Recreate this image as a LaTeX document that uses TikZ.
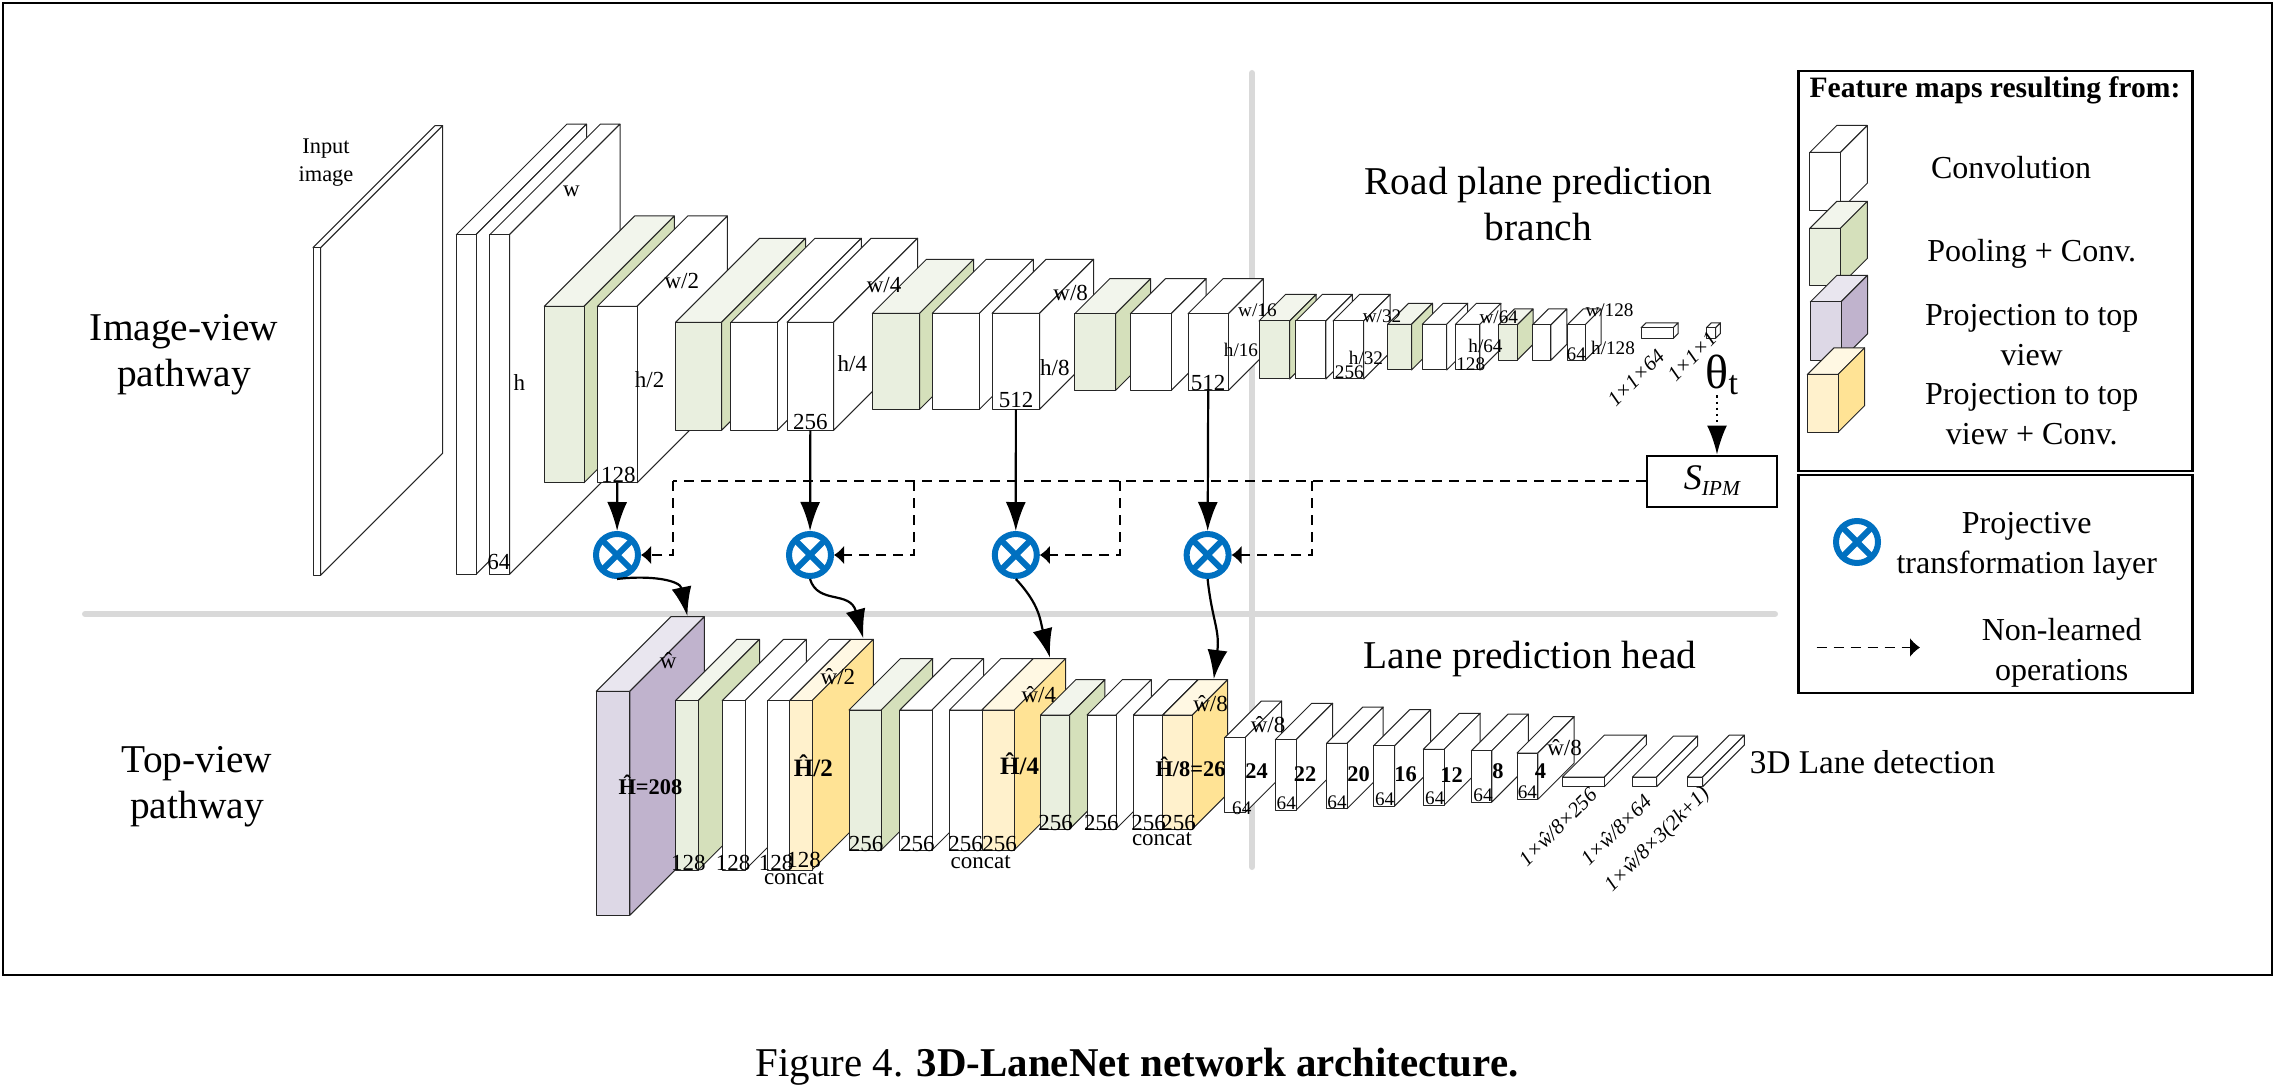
\documentclass[tikz,border=0pt]{standalone}
\usepackage{fontspec}
\setmainfont{Liberation Serif}
\usetikzlibrary{arrows.meta}
\definecolor{plainfront}{HTML}{FFFFFF}
\definecolor{plaintop}{HTML}{FFFFFF}
\definecolor{plainside}{HTML}{FFFFFF}
\definecolor{poolfront}{HTML}{E9EFDF}
\definecolor{pooltop}{HTML}{F2F5EC}
\definecolor{poolside}{HTML}{D5E0BB}
\definecolor{projfront}{HTML}{DDD8E6}
\definecolor{projtop}{HTML}{E9E6EF}
\definecolor{projside}{HTML}{C0B3CD}
\definecolor{concfront}{HTML}{FFF1CC}
\definecolor{conctop}{HTML}{FFF8E3}
\definecolor{concside}{HTML}{FFE395}
\definecolor{otblue}{HTML}{0070C0}
\definecolor{railgray}{HTML}{D9D9D9}
\tikzset{
  fmapedge/.style={draw=black!85,line width=.5pt,line join=round},
  fmapface/.style={fmapedge,anchor=north west,inner sep=0pt,outer sep=0pt},
  otimes/.style={circle,draw=otblue,line width=3pt,minimum size=21pt,inner sep=0pt,
    path picture={
      \draw[otblue,line width=3pt] (path picture bounding box.north west) -- (path picture bounding box.south east);
      \draw[otblue,line width=3pt] (path picture bounding box.north east) -- (path picture bounding box.south west);
    }},
  rail/.style={railgray,line width=3pt,line cap=round},
  solidarrow/.style={line width=1.1pt,-{Latex[length=14.5pt,width=10pt]}},
  busline/.style={line width=1.1pt,dash pattern=on 5pt off 3.5pt},
  busarrow/.style={busline,-{Latex[length=5pt,width=9.5pt]}},
  bigtext/.style={inner sep=0pt,font=\fontsize{19.7}{23}\selectfont},
  legtext/.style={inner sep=0pt,font=\fontsize{16}{19}\selectfont},
  dimfont/.style={inner sep=0pt,font=\fontsize{11.5}{13}\selectfont},
  smallfont/.style={inner sep=0pt,font=\fontsize{9.6}{11}\selectfont},
  boldfont/.style={inner sep=0pt,font=\fontsize{11.2}{13}\selectfont\bfseries},
  slanted/.style={inner sep=0pt,rotate=45,font=\fontsize{10.5}{12}\selectfont\itshape},
}
% one feature map: kind, name, x, y, width, height, depth
\newcommand{\fmap}[7]{
  \path[fmapedge,fill=#1top] (#3,#4) -- ++(#7,-#7) -- ++(#5,0) -- ++(-#7,#7) -- cycle;
  \path[fmapedge,fill=#1side] (#3+#5,#4) -- ++(#7,-#7) -- ++(0,#6) -- ++(-#7,#7) -- cycle;
  \node[fmapface,fill=#1front,minimum width={#5*0.5pt},minimum height={#6*0.5pt}] (#2) at (#3,#4) {};
}
\begin{document}
\begin{tikzpicture}[x=.5pt,y=-.5pt]
    \useasboundingbox (0,0) rectangle (2274,1085);
    \node[draw,line width=.8pt,anchor=north west,inner sep=0pt,minimum width=1134.5pt,minimum height=486pt] (frame) at (2,2) {};

    \coordinate (railvtop) at (1252,73);
    \coordinate (railvbot) at (1252,867);
    \coordinate (railhl) at (85,614);
    \coordinate (railhr) at (1775,614);
    \draw[rail] (railvtop) -- (railvbot);
    \draw[rail] (railhl) -- (railhr);

    % image-view pathway
    \foreach \kind/\nm/\xx/\yy/\ww/\hh/\dd in {
      plain/inputimg/313/247.7/7.6/327.6/122,
      plain/c1a/456.3/234.7/19.7/339.6/110.5,
      plain/c1b/489.8/234.7/19.7/339.6/110.5,
      pool/p2/544.3/306.3/39.7/176.4/90.3,
      plain/c2/597.4/306.3/39.7/176.4/90.3,
      pool/p3/675.5/322.3/46/108/84,
      plain/c3a/730.9/322.3/46.4/108/84,
      plain/c3b/787.1/322.3/46.5/108/84,
      pool/p4/872.4/313.3/47.3/96/54,
      plain/c4a/932.2/313.3/47.2/96/54,
      plain/c4b/992.1/313.3/47.5/96/54,
      pool/p5/1074.8/313.7/40.8/76.7/35,
      plain/c5a/1130.4/313.7/40.8/76.7/35,
      plain/c5b/1188/313.7/40.4/76.7/35,
      pool/p6/1259/321/30.6/58/26.6,
      plain/c6a/1295.7/321/30.1/58/26.6,
      plain/c6b/1333/321/30.6/58/26.6,
      pool/p7/1387.6/324.3/23.9/45.7/21,
      plain/c7a/1422.2/324.3/24.5/45.7/21,
      plain/c7b/1455.4/324.3/24.5/45.7/21,
      pool/p8/1498.3/325/18.8/35.3/16,
      plain/c8a/1532.4/325/18.4/35.3/16,
      plain/c8b/1567.1/325/17.9/35.3/16,
      plain/fc1/1641.1/327.7/32.2/10.6/4.8,
      plain/fc2/1706.4/327.7/9.2/10.6/4.8}
    {\fmap{\kind}{\nm}{\xx}{\yy}{\ww}{\hh}{\dd}}

    % top-view pathway
    \foreach \kind/\nm/\xx/\yy/\ww/\hh/\dd in {
      proj/t1/596.3/691.3/33.5/224/74.6,
      pool/t2/675.4/700.7/22.8/169.3/61.3,
      plain/t3/722.2/700.7/22.8/169.3/61.3,
      plain/t4/767.8/700.7/21.8/169.3/61.3,
      conc/t5/789.6/700.7/22.4/169.3/61.3,
      pool/t6/849/710/32.2/140/51.5,
      plain/t7/899.9/710/32.1/140/51.5,
      plain/t8/949.5/710/32.5/140/51.5,
      conc/t9/982/710/32.2/140/51.5,
      pool/t10/1040.5/715/29.1/114/35.3,
      plain/t11/1087/715/29/114/35.3,
      plain/t12/1133.4/715/29.5/114/35.3,
      conc/t13/1162.9/715/29.4/114/35.3,
      plain/h1/1224.6/737.7/20.4/75/36.6,
      plain/h2/1275.3/739.7/20.9/70.3/36.4,
      plain/h3/1326.6/743.3/20.4/65.4/36.2,
      plain/h4/1373.6/745.7/21/60.3/36,
      plain/h5/1423.3/749.3/20.9/55.7/36,
      plain/h6/1471.4/750.7/20.4/51.3/36.5,
      plain/h7/1517/753/20.9/46.3/36.3,
      plain/o1/1562.5/777/41.8/9.7/42,
      plain/o2/1632.5/777/24.1/9.7/41,
      plain/o3/1687.4/777/15.2/9.7/41.8}
    {\fmap{\kind}{\nm}{\xx}{\yy}{\ww}{\hh}{\dd}}

    \node[otimes] (ot1) at (617,555) {};
    \node[otimes] (ot2) at (810,555) {};
    \node[otimes] (ot3) at (1015.8,555) {};
    \node[otimes] (ot4) at (1207.6,555) {};
    \node[draw,line width=1pt,minimum width=65pt,minimum height=25.5pt,inner sep=0pt] (sipm) at (1711.8,481)
      {\fontsize{18}{18}\selectfont\itshape S\raisebox{-3pt}{\fontsize{10.7}{12}\selectfont IPM}};
    \node[inner sep=0pt,font=\fontsize{24}{24}\selectfont] (theta) at (1717,375) {θ\rlap{\raisebox{-3pt}{\fontsize{17}{17}\selectfont t}}};

    \draw[solidarrow] (c2.south) -- (ot1);
    \draw[solidarrow] (c3b.south) -- (ot2);
    \draw[solidarrow] (c4b.south) -- (ot3);
    \draw[solidarrow] (c5b.south) -- (ot4);
    \draw[line width=1.1pt,dotted,-{Latex[length=14.5pt,width=10pt]}] (theta.south) -- (theta.south |- sipm.north);

    \coordinate (bus1) at (673.3,481);
    \coordinate (bus2) at (914,481);
    \coordinate (bus3) at (1120,481);
    \coordinate (bus4) at (1312,481);
    \draw[busline] (sipm.west) -- (bus1);
    \draw[busarrow] (bus1) |- (ot1.east);
    \draw[busarrow] (bus2) |- (ot2.east);
    \draw[busarrow] (bus3) |- (ot3.east);
    \draw[busarrow] (bus4) |- (ot4.east);

    \coordinate (tip1) at (687.4,616);
    \coordinate (tip2) at (863.3,638.3);
    \coordinate (tip3) at (1050,657.7);
    \coordinate (tip4) at (1213.8,679);
    \draw[solidarrow] (ot1.south) .. controls (650,575) and (680,580) .. (tip1);
    \draw[solidarrow] (ot2.south) .. controls (818,605) and (850,590) .. (tip2);
    \draw[solidarrow] (ot3.south) .. controls (1040,605) and (1040,620) .. (tip3);
    \draw[solidarrow] (ot4.south) .. controls (1212,620) and (1220,630) .. (tip4);

    % big labels
    \node[bigtext,align=center] (imgview) at (184,355) {Image-view\\pathway};
    \node[bigtext,align=center] (topview) at (197,787) {Top-view\\pathway};
    \node[bigtext,align=center] (roadbranch) at (1538.5,204) {Road plane prediction\\branch};
    \node[bigtext] (lanehead) at (1530,659) {Lane prediction head};
    \node[inner sep=0pt,font=\fontsize{16.6}{19}\selectfont] (lanedet) at (1872.5,761.7) {3D Lane detection};
    \node[inner sep=0pt,align=center,font=\fontsize{11.2}{14}\selectfont] (inputlbl) at (326,162.5) {Input\\image};

    % sizes along the image-view pathway
    \foreach \xx/\yy/\txt [count=\i] in {
      571.5/191.7/w, 519.3/382.7/h, 498.8/561.7/64, 681.8/281/{w/2}, 649.6/380/{h/2},
      618.4/475/128, 884/285/{w/4}, 852.3/363.3/{h/4}, 810.4/422.3/256, 1070.7/292.7/{w/8},
      1054.9/367.7/{h/8}, 1016/400/512, 1208/382.7/512}
    {\node[dimfont] (imgdim\i) at (\xx,\yy) {\txt};}
    \foreach \xx/\yy/\txt [count=\i] in {
      1257.4/310/{w/16}, 1241/350/{h/16}, 1382/316.7/{w/32}, 1366/358.3/{h/32}, 1349.3/372.7/256,
      1498.8/317.3/{w/64}, 1485.5/346/{h/64}, 1470.7/364.3/128, 1576.3/354.3/64,
      1609.5/310/{w/128}, 1613/347.7/{h/128}}
    {\node[smallfont] (fardim\i) at (\xx,\yy) {\txt};}
    \node[slanted] (onea) at (1636,378) {1×1×64};
    \node[slanted] (oneb) at (1692,356.7) {1×1×1};

    % sizes along the top-view pathway
    \foreach \xx/\yy/\txt [count=\i] in {
      668.2/660.7/\^w, 837.9/676.7/{\^w/2}, 1038.8/695/{\^w/4}, 1210.6/704/{\^w/8},
      1268/724.3/{\^w/8}, 1564.5/747.3/{\^w/8},
      688.3/862.7/128, 733/862.7/128, 776/862.7/128, 803.5/860/128,
      866/844/256, 917.3/844/256, 965.5/844/256, 999.5/844/256,
      1055.7/823.3/256, 1101.3/823.3/256, 1148.6/823.3/256, 1178.5/823.3/256,
      794/878.3/concat, 980.7/861.7/concat, 1162/838.7/concat}
    {\node[dimfont] (topdim\i) at (\xx,\yy) {\txt};}
    \foreach \xx/\yy [count=\i] in {
      1241.8/808.3, 1286.3/803.3, 1337/802.3, 1384.6/799.3, 1434.8/798.3, 1483/795.3, 1527.4/792.7}
    {\node[smallfont] (headdim\i) at (\xx,\yy) {64};}
    \foreach \xx/\yy/\txt [count=\i] in {
      650.4/785/{\^H=208}, 1190.5/767.3/{\^H/8=26}, 1256.5/771/24, 1305/774.3/22, 1358.5/774.3/20,
      1405.5/774.3/16, 1451.6/775.3/12, 1498/771/8, 1540.5/771/4}
    {\node[boldfont] (botlbl\i) at (\xx,\yy) {\txt};}
    \node[boldfont,font=\fontsize{12.5}{14}\selectfont\bfseries] (hhalf) at (813.3,765.7) {\^H/2};
    \node[boldfont,font=\fontsize{12.5}{14}\selectfont\bfseries] (hquarter) at (1019.6,764) {\^H/4};
    \node[slanted] (outa) at (1557.6,826.7) {1×\^w/8×256};
    \node[slanted] (outb) at (1615.8,830) {1×\^w/8×64};
    \node[slanted] (outc) at (1657.6,840) {1×\^w/8×3(2k+1)};

    % legend
    \node[draw,line width=1.2pt,anchor=north west,inner sep=0pt,minimum width=197pt,minimum height=200pt] (legtop) at (1797.3,70) {};
    \node[draw,line width=1.2pt,anchor=north west,inner sep=0pt,minimum width=197pt,minimum height=109pt] (legbot) at (1797.3,474) {};
    \node[inner sep=0pt,font=\fontsize{14.8}{17}\selectfont\bfseries] (legtitle) at (1995,90.5) {Feature maps resulting from:};
    \fmap{plain}{legconv}{1809.7}{152.5}{30.6}{57.7}{27}
    \fmap{pool}{legpool}{1809.7}{228.4}{30.6}{57}{27}
    \fmap{proj}{legproj}{1810.3}{301.9}{30.7}{58.5}{26.5}
    \fmap{conc}{legconc}{1807.3}{374.5}{30.7}{57.7}{26.6}
    \node[legtext] (txtconv) at (2011,167.4) {Convolution};
    \node[legtext] (txtpool) at (2031.7,254) {Pooling + Conv.};
    \node[legtext,align=center] (txtproj) at (2031.7,335.5) {Projection to top\\[1pt]view};
    \node[legtext,align=center] (txtconc) at (2031.7,414) {Projection to top\\[1pt]view + Conv.};
    \node[otimes] (legot) at (1857,542) {};
    \node[legtext,align=center] (txtot) at (2026.7,546) {Projective\\[1pt]transformation layer};
    \coordinate (legdasha) at (1816.7,647.5);
    \coordinate (legdashb) at (1920,647.5);
    \draw[line width=.7pt,dash pattern=on 5pt off 3.5pt,-{Latex[length=5pt,width=9.5pt]}] (legdasha) -- (legdashb);
    \node[legtext,align=center] (txtdash) at (2061.7,653) {Non-learned\\[1pt]operations};

    \node[inner sep=0pt,font=\fontsize{20.45}{24}\selectfont] (caption) at (1137,1067) {Figure 4. \textbf{3D-LaneNet network architecture.}};
\end{tikzpicture}
\end{document}
